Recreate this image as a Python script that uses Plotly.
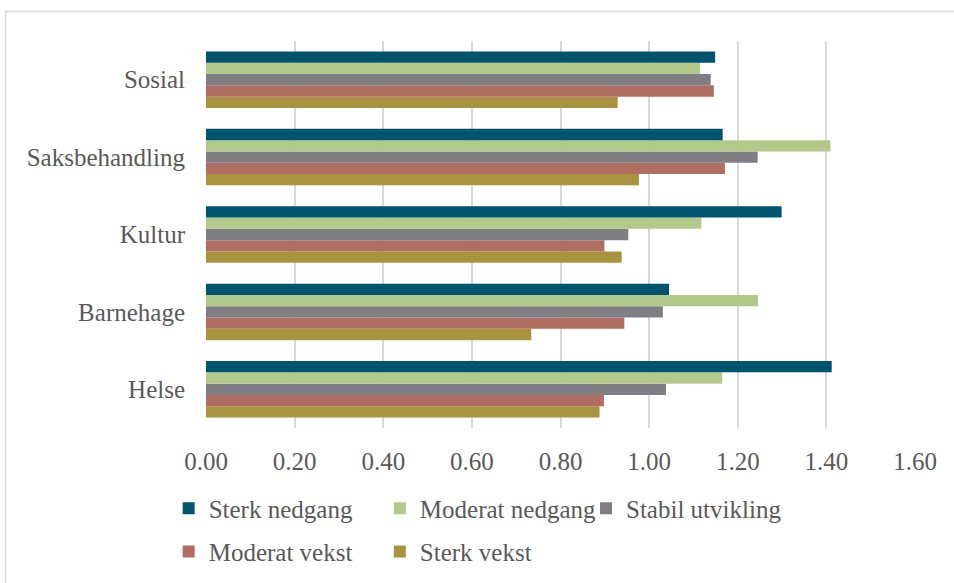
import plotly.graph_objects as go

categories = ["Helse", "Barnehage", "Kultur", "Saksbehandling", "Sosial"]

sterk_nedgang = [1.412, 1.045, 1.299, 1.166, 1.149]
moderat_nedgang = [1.165, 1.246, 1.118, 1.409, 1.115]
stabil_utvikling = [1.038, 1.031, 0.953, 1.245, 1.139]
moderat_vekst = [0.898, 0.944, 0.899, 1.171, 1.146]
sterk_vekst = [0.888, 0.734, 0.938, 0.977, 0.929]

series_names = ["Sterk nedgang", "Moderat nedgang", "Stabil utvikling", "Moderat vekst", "Sterk vekst"]
series_values = [sterk_nedgang, moderat_nedgang, stabil_utvikling, moderat_vekst, sterk_vekst]
colors = ["#00546E", "#B3C98A", "#7F7E85", "#B06D62", "#A8933F"]

x_ticks = [0, 0.2, 0.4, 0.6, 0.8, 1.0, 1.2, 1.4, 1.6]

FONT = "Liberation Serif"
TXT = "#595959"

W, H = 954, 583
ml, mr, mt, mb = 206.3, 39.3, 41.4, 155.4
pw = W - ml - mr
ph = H - mt - mb

def px_x(x):
    return (x - ml) / pw

def px_y(y):
    return (H - mb - y) / ph

# legend entry positions (pixel location of each entry: left, vertical centre)
legend_ids = ["legend", "legend2", "legend3", "legend4", "legend5"]
legend_pos = [(169, 508), (380, 508), (586, 508), (169, 551), (380, 551)]

fig = go.Figure()
# add in reverse so that "Sterk nedgang" sits on top within each group
for name, vals, col, lg in reversed(list(zip(series_names, series_values, colors, legend_ids))):
    fig.add_trace(go.Bar(
        y=categories, x=vals, name=name, orientation="h", legend=lg,
        marker=dict(color=col, line=dict(width=0)),
    ))

legends = {}
for lg, (lx, ly) in zip(legend_ids, legend_pos):
    legends[lg] = dict(
        orientation="h", xanchor="left", yanchor="middle",
        x=px_x(lx), y=px_y(ly),
        font=dict(family=FONT, size=25, color=TXT),
        bgcolor="rgba(0,0,0,0)",
    )

fig.update_layout(
    width=W, height=H,
    margin=dict(l=ml, r=mr, t=mt, b=mb, pad=0, autoexpand=False),
    paper_bgcolor="white", plot_bgcolor="white",
    barmode="group", bargap=0.27, bargroupgap=0,
    font=dict(family=FONT, size=25, color=TXT),
    showlegend=True,
    xaxis=dict(
        range=[0, 1.6], tickvals=x_ticks, tickformat=".2f",
        showgrid=True, gridcolor="#D9D9D9", gridwidth=1.5,
        zeroline=False, showline=False, ticks="",
        ticklabelstandoff=16,
        tickfont=dict(family=FONT, size=25, color=TXT),
        fixedrange=True,
    ),
    yaxis=dict(
        categoryorder="array", categoryarray=categories,
        showgrid=False, zeroline=False, showline=False, ticks="",
        ticklabelstandoff=20,
        tickfont=dict(family=FONT, size=25, color=TXT),
        fixedrange=True,
    ),
    shapes=[dict(
        type="rect", xref="paper", yref="paper",
        x0=px_x(6), x1=px_x(965), y0=px_y(600), y1=px_y(12),
        line=dict(color="#D9D9D9", width=1.5), fillcolor="rgba(0,0,0,0)",
        layer="below",
    )],
    **legends,
)

fig.write_html(
    "out.html",
    config={"displayModeBar": False},
    post_script="document.body.style.margin='0';document.body.style.overflow='hidden';",
)
